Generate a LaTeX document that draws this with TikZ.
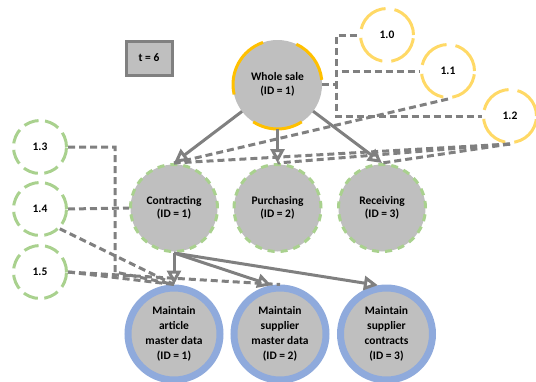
\documentclass[tikz,border=0pt]{standalone}
\usepackage{fontspec}
\setmainfont{Carlito}
\usetikzlibrary{arrows.meta}
\definecolor{lineGray}{RGB}{128,128,128}
\definecolor{fillGray}{RGB}{191,191,191}
\definecolor{greenDash}{RGB}{169,209,142}
\definecolor{yellowDash}{RGB}{255,217,102}
\definecolor{orangeArc}{RGB}{255,192,0}
\definecolor{blueRing}{RGB}{143,170,220}
\tikzstyle{canvas} = [x = 1pt, y = -1pt]
\tikzstyle{labelText} = [font=\bfseries\fontsize{11.5}{13.5}\selectfont, align=center, text=black]
\tikzstyle{goalStyle} = [circle, fill=fillGray, minimum size=89pt, inner sep=0pt, outer sep=0pt, labelText]
\tikzstyle{stepStyle} = [circle, fill=fillGray, draw=greenDash, line width=3pt, dash pattern=on 7pt off 6pt, minimum size=87pt, inner sep=0pt, labelText]
\tikzstyle{taskStyle} = [circle, fill=fillGray, draw=blueRing, line width=7pt, minimum size=92pt, inner sep=0pt, labelText, font=\bfseries\fontsize{11.5}{15}\selectfont]
\tikzstyle{upperVariant} = [circle, fill=white, draw=yellowDash, line width=3pt, dash pattern=on 34pt off 9pt, minimum size=53pt, labelText]
\tikzstyle{lowerVariant} = [circle, fill=white, draw=greenDash, line width=3pt, dash pattern=on 15pt off 6.5pt, minimum size=53pt, labelText]
\tikzstyle{timeBox} = [rectangle, fill=fillGray, draw=lineGray, line width=3pt, minimum width=46pt, minimum height=34pt, labelText]
\tikzstyle{flowArrow} = [draw=lineGray, line width=3pt, -{Triangle[open, length=14pt, width=14pt]}]
\tikzstyle{linkLine} = [draw=lineGray, line width=3pt, dash pattern=on 7pt off 4pt]
\tikzstyle{goalArc} = [draw=orangeArc, line width=3pt]
\newcommand{\goalArc}[2]{\draw [goalArc] (ws.#1) arc [start angle=#1, end angle=#2, radius=44.5pt];}

\begin{document}
\begin{tikzpicture}[canvas]
  \useasboundingbox (0,0) rectangle (536,381);

  % dashed links first, nodes on top
  \node [timeBox] (time) at (149,58) {t = 6};
  \node [goalStyle] (ws) at (277.5,84.5) {Whole sale\\(ID = 1)};
  \goalArc{109}{193}
  \goalArc{6}{65}
  \goalArc{237}{303}

  \node [upperVariant] (v10) at (387,35) {1.0};
  \node [upperVariant] (v11) at (448,71) {1.1};
  \node [upperVariant] (v12) at (510,116) {1.2};

  \node [stepStyle] (con) at (174,208) {Contracting\\(ID = 1)};
  \node [stepStyle] (pur) at (277.5,208) {Purchasing\\(ID = 2)};
  \node [stepStyle] (rec) at (382,208) {Receiving\\(ID = 3)};

  \node [lowerVariant] (v13) at (40,147) {1.3};
  \node [lowerVariant] (v14) at (40,209) {1.4};
  \node [lowerVariant] (v15) at (40,272) {1.5};

  \node [taskStyle] (art) at (174,334) {Maintain\\article\\master data\\(ID = 1)};
  \node [taskStyle] (sup) at (280,334) {Maintain\\supplier\\master data\\(ID = 2)};
  \node [taskStyle] (ctr) at (386.5,334) {Maintain\\supplier\\contracts\\(ID = 3)};

  \coordinate (bend) at (115,272);

  \draw [linkLine] (ws.east) -- ++(14,0) |- (v10.west);
  \draw [linkLine] (ws.east) -- ++(14,0) |- (v11.west);
  \draw [linkLine] (ws.east) -- ++(14,0) |- (v12.west);
  \draw [linkLine] (v11.south) -- (con.north);
  \draw [linkLine] (v12.south) -- (con.north);
  \draw [linkLine] (v12.south) -- (pur.north);
  \draw [linkLine] (v12.south) -- (rec.north);

  \draw [linkLine] (v13.east) -| (bend) -- (art.north);
  \draw [linkLine] (v14.east) -- (con.west);
  \draw [linkLine] (v14.-45) -- (art.north);
  \draw [linkLine] (v15.east) -- (art.north);
  \draw [linkLine] (v15.east) -- (sup.north);

  \draw [flowArrow] (ws) -- (con.north);
  \draw [flowArrow] (ws) -- (pur.north);
  \draw [flowArrow] (ws) -- (rec.north);
  \draw [flowArrow] (con.south) -- (art.north);
  \draw [flowArrow] (con.south) -- (sup.100);
  \draw [flowArrow] (con.south) -- (ctr.100);
\end{tikzpicture}
\end{document}
